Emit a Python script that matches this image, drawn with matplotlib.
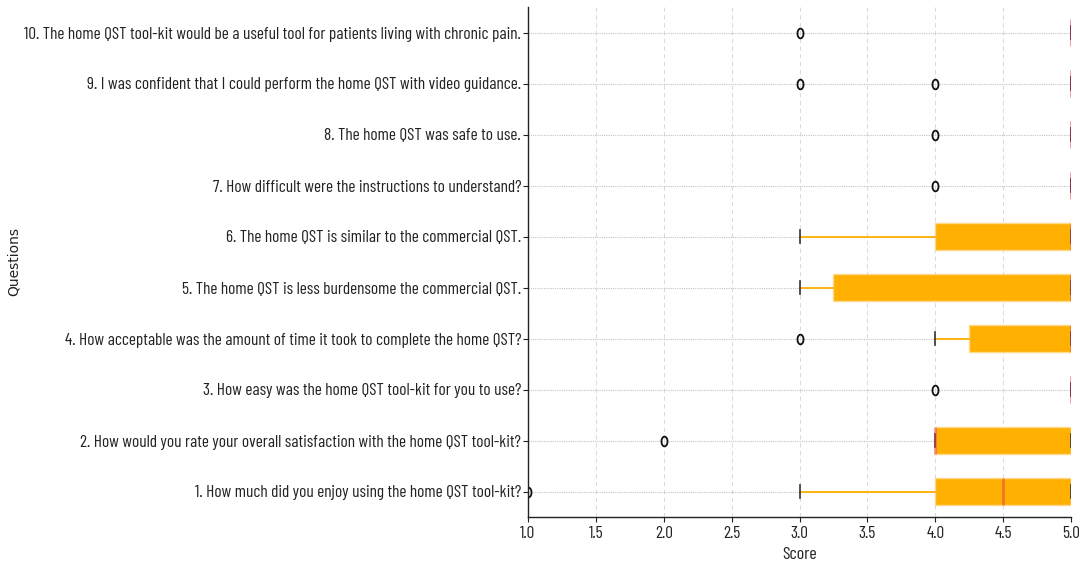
import matplotlib
matplotlib.use("Agg")
import matplotlib.pyplot as plt
from matplotlib.path import Path
import numpy as np

# ---------------- data ----------------
questions = [
    "1. How much did you enjoy using the home QST tool-kit?",
    "2. How would you rate your overall satisfaction with the home QST tool-kit?",
    "3. How easy was the home QST tool-kit for you to use?",
    "4. How acceptable was the amount of time it took to complete the home QST?",
    "5. The home QST is less burdensome the commercial QST.",
    "6. The home QST is similar to the commercial QST.",
    "7. How difficult were the instructions to understand?",
    "8. The home QST was safe to use.",
    "9. I was confident that I could perform the home QST with video guidance.",
    "10. The home QST tool-kit would be a useful tool for patients living with chronic pain.",
]
q1_scores = [1, 3, 4, 4, 4, 5, 5, 5, 5, 5]
q2_scores = [2, 4, 4, 4, 4, 4, 5, 5, 5, 5]
q3_scores = [4, 5, 5, 5, 5, 5, 5, 5, 5, 5]
q4_scores = [3, 4, 4, 5, 5, 5, 5, 5, 5, 5]
q5_scores = [3, 3, 3, 4, 5, 5, 5, 5, 5, 5]
q6_scores = [3, 4, 4, 4, 5, 5, 5, 5, 5, 5]
q7_scores = [4, 5, 5, 5, 5, 5, 5, 5, 5, 5]
q8_scores = [4, 5, 5, 5, 5, 5, 5, 5, 5, 5]
q9_scores = [3, 4, 5, 5, 5, 5, 5, 5, 5, 5]
q10_scores = [3, 5, 5, 5, 5, 5, 5, 5, 5, 5]
all_scores = [q1_scores, q2_scores, q3_scores, q4_scores, q5_scores,
              q6_scores, q7_scores, q8_scores, q9_scores, q10_scores]
x_ticks = [1.0, 1.5, 2.0, 2.5, 3.0, 3.5, 4.0, 4.5, 5.0]

# ---------------- style ----------------
cond_family = "Barlow Condensed"
W, H = 1086, 567
fig = plt.figure(figsize=(W / 100, H / 100), dpi=100)
ax = fig.add_axes([528 / W, 1 - 517 / H, 543 / W, 510 / H])

# squashed ellipse marker for outliers
t = np.linspace(0, 2 * np.pi, 60)
ell = Path(np.column_stack([0.62 * np.cos(t), np.sin(t)]), closed=True)

orange = "#FFB000"
bp = ax.boxplot(
    all_scores,
    vert=False,
    widths=0.53,
    patch_artist=True,
    boxprops=dict(facecolor=orange, edgecolor="#FFD98A", linewidth=1.0),
    whiskerprops=dict(color=orange, linewidth=1.3),
    capprops=dict(color="#333333", linewidth=1.2),
    medianprops=dict(color="#E8384F", alpha=0.5, linewidth=2.0),
    flierprops=dict(marker=ell, markersize=7, markerfacecolor="none",
                    markeredgecolor="#111111", markeredgewidth=1.3),
)

ax.set_xlim(1.0, 5.0)
ax.set_ylim(0.5, 10.5)
ax.set_xticks(x_ticks)
ax.set_xticklabels([f"{v:.1f}" for v in x_ticks])
ax.set_yticks(range(1, len(questions) + 1))
ax.set_yticklabels(questions)

ax.xaxis.grid(True, linestyle=(0, (4, 3)), color="#dcdcdc", linewidth=0.8)
ax.yaxis.grid(True, linestyle=(0, (1, 1)), color="#c4c4c4", linewidth=0.8)
ax.set_axisbelow(True)

for s in ("top", "right"):
    ax.spines[s].set_visible(False)
for s in ("left", "bottom"):
    ax.spines[s].set_color("#222222")
    ax.spines[s].set_linewidth(1.0)

ax.tick_params(axis="y", length=3.5, pad=1.5, colors="#222222")
ax.tick_params(axis="x", length=3.5, pad=3, colors="#222222")

# fit condensed font size so the longest question spans ~500 px
base = 10.0
for lab in ax.get_yticklabels():
    lab.set_family(cond_family)
    lab.set_fontsize(base)
fig.canvas.draw()
r = fig.canvas.get_renderer()
wmax = max(l.get_window_extent(r).width for l in ax.get_yticklabels())
fs = base * 497.0 / wmax
for lab in ax.get_yticklabels() + ax.get_xticklabels():
    lab.set_family(cond_family)
    lab.set_fontsize(fs)
    lab.set_color("#222222")

ax.set_xlabel("Score", family=cond_family, fontsize=fs + 0.5,
              color="#222222", labelpad=4)
fig.text(14 / W, 1 - 262 / H, "Questions", rotation=90, ha="center", va="center",
         family="DejaVu Sans", fontsize=10, color="#222222")

fig.savefig("out.png", dpi=100)
